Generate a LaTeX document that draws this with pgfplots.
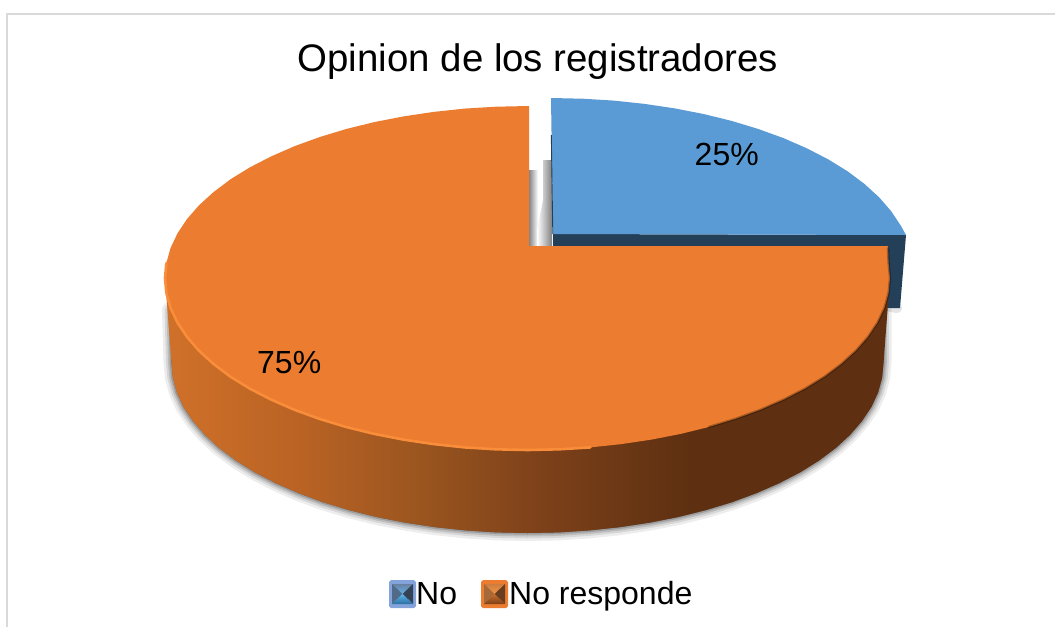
\documentclass[border=0pt]{standalone}
\usepackage{pgfplots}
\pgfplotsset{compat=1.18}
\usepackage{pgfplotstable}
\usepackage{fontspec}
\setmainfont{Liberation Sans}
\definecolor{orangetop}{HTML}{EB7C30}
\definecolor{orangerim}{HTML}{F98D3A}
\definecolor{bluetop}{HTML}{5B9BD5}
\definecolor{blueside}{HTML}{243F58}
\definecolor{frameg}{HTML}{D9D9D9}
\definecolor{s0}{HTML}{D07129}
\definecolor{s1}{HTML}{B86224}
\definecolor{s2}{HTML}{9A551F}
\definecolor{s3}{HTML}{7F421A}
\definecolor{s4}{HTML}{673514}
\definecolor{s5}{HTML}{5E3011}
\pgfdeclarehorizontalshading{sideshade}{100bp}{
 color(0bp)=(s0); color(25bp)=(s0); color(34.7bp)=(s1); color(42.7bp)=(s2);
 color(50.4bp)=(s3); color(58bp)=(s4); color(61.2bp)=(s5); color(75bp)=(s5); color(100bp)=(s5)}
\pgfplotstableread{
x y
883.5 310
883.5 363
882.1 377.8
878.1 392.5
871.4 407
862 421.1
850.1 434.8
835.8 448
819.1 460.5
800.2 472.3
779.2 483.2
756.3 493.2
731.7 502.3
705.5 510.2
677.9 517.1
649.3 522.7
619.6 527.2
589.3 530.4
558.5 532.4
527.5 533
496.5 532.4
465.7 530.4
435.4 527.2
405.7 522.7
377.1 517.1
349.5 510.2
323.3 502.3
298.7 493.2
275.8 483.2
254.8 472.3
235.9 460.5
219.2 448
204.9 434.8
193 421.1
183.6 407
176.9 392.5
172.9 377.8
171.5 363
170 310
}\lowerrim
\pgfplotstableread{
x y
890 278
883.5 363
882.1 377.8
878.1 392.5
871.4 407
862 421.1
850.1 434.8
835.8 448
819.1 460.5
800.2 472.3
779.2 483.2
756.3 493.2
731.7 502.3
705.5 510.2
677.9 517.1
649.3 522.7
619.6 527.2
589.3 530.4
558.5 532.4
527.5 533
496.5 532.4
465.7 530.4
435.4 527.2
405.7 522.7
377.1 517.1
349.5 510.2
323.3 502.3
298.7 493.2
275.8 483.2
254.8 472.3
235.9 460.5
219.2 448
204.9 434.8
193 421.1
183.6 407
176.9 392.5
172.9 377.8
171.5 363
165 278
}\sidewall
\pgfplotstableread{
x y
529 246
888 246
888.6 263
890 278
888.6 293
884.5 307.9
877.6 322.5
868.1 336.8
856 350.7
841.4 364
824.5 376.7
805.2 388.6
783.8 399.6
760.5 409.8
735.4 418.9
708.8 427
680.7 433.9
651.5 439.6
621.3 444.1
590.4 447.4
559.1 449.3
527.5 450
495.9 449.3
464.6 447.4
433.7 444.1
403.5 439.6
374.3 433.9
346.2 427
319.6 418.9
294.5 409.8
271.2 399.6
249.8 388.6
230.5 376.7
213.6 364
199 350.7
186.9 336.8
177.4 322.5
170.5 307.9
166.4 293
165 278
166.4 263
170.5 248.1
177.4 233.5
186.9 219.2
199 205.3
213.6 192
230.5 179.3
249.8 167.4
271.2 156.4
294.5 146.2
319.6 137.1
346.2 129
374.3 122.1
403.5 116.4
433.7 111.9
464.6 108.6
495.9 106.7
529 106
}\orangetopdata
\pgfplotstableread{
x y
551 98
582.6 98.7
613.8 100.6
644.7 103.9
674.8 108.4
704 114.1
732 121
758.6 129.1
783.7 138.2
807 148.4
828.3 159.4
847.6 171.3
864.5 184
879.1 197.3
891.2 211.2
900.7 225.5
906 235
553 234
}\bluetopdata
\begin{document}
\begin{tikzpicture}
\begin{axis}[
  hide axis, scale only axis, width=1055pt, height=627pt,
  xmin=0, xmax=1055, ymin=0, ymax=627, y dir=reverse, clip=true,
  every axis plot/.append style={line join=round, line cap=round}]
% page background, which also fixes the page's extent
\addplot[draw=none, fill=white] coordinates {(0,0) (1055,0) (1055,627) (0,627)};
% frame
\addplot[draw=frameg, line width=1.6pt, line cap=butt] coordinates {(7,627) (7,14) (1055,14)};
% soft shadow
\addplot[draw=black, fill=black, opacity=.07, line width=16pt] table {\lowerrim} -- cycle;
\addplot[draw=black, fill=black, opacity=.09, line width=11pt] table {\lowerrim} -- cycle;
\addplot[draw=black, fill=black, opacity=.12, line width=7pt] table {\lowerrim} -- cycle;
\addplot[draw=black, fill=black, opacity=.16, line width=3.5pt] table {\lowerrim} -- cycle;
% blue slice shadow and side
\addplot[draw=black, fill=black, opacity=.1, line width=10pt] coordinates {(890,300) (897,308) (885,306)} -- cycle;
\addplot[draw=none, fill=blueside] coordinates {(553,234) (906,235) (900,308) (860,308) (553,250)};
% shaded gap walls
\addplot[draw=none, left color=black!48, right color=white] coordinates {(529,170) (538,170) (538,246) (529,246)};
\addplot[draw=none, left color=white, right color=black!50] coordinates {(543,160) (552,160) (552,246) (537,246) (537,230) (543,200)};
% side wall of the orange slice
\addplot[draw=none, shading=sideshade] table {\sidewall};
% tops
\addplot[draw=none, fill=bluetop] table {\bluetopdata};
\addplot[draw=blueside, line width=.9pt, line cap=butt] coordinates {(551.3,135) (552.8,234)};
\addplot[draw=none, fill=orangetop] table {\orangetopdata};
% rim highlight and rim shade
\addplot[draw=orangerim, line width=2.6pt] coordinates {
(590.4,447.4) (559.1,449.3) (527.5,450) (495.9,449.3) (464.6,447.4) (433.7,444.1) (403.5,439.6) (374.3,433.9) (346.2,427) (319.6,418.9) (294.5,409.8) (271.2,399.6) (249.8,388.6) (230.5,376.7) (213.6,364) (199,350.7) (186.9,336.8) (177.4,322.5) (170.5,307.9) (166.4,293) (165,278) (166.4,263)};
\addplot[draw=black, opacity=.28, line width=2.4pt] coordinates {
(888,248) (888.6,263) (890,278) (888.6,293) (884.5,307.9) (877.6,322.5) (868.1,336.8) (856,350.7) (841.4,364) (824.5,376.7) (805.2,388.6) (783.8,399.6) (760.5,409.8) (735.4,418.9) (708.8,427)};
% legend swatches
\addplot[draw=none, fill={rgb,255:red,132;green,163;blue,219}] coordinates {(391,580) (414,580) (416,582) (416,606) (414,608) (391,608) (389,606) (389,582)};
\addplot[draw=none, fill=orangetop] coordinates {(483,580) (506,580) (508,582) (508,606) (506,608) (483,608) (481,606) (481,582)};
\addplot[draw=none, top color={rgb,255:red,105;green,128;blue,160}, bottom color={rgb,255:red,95;green,180;blue,235}] coordinates {(392,584) (413,584) (402.5,594)};
\addplot[draw=none, fill={rgb,255:red,80;green,106;blue,135}] coordinates {(392,584) (392,604) (402.5,594)};
\addplot[draw=none, fill={rgb,255:red,52;green,66;blue,86}] coordinates {(413,584) (413,604) (402.5,594)};
\addplot[draw=none, top color={rgb,255:red,95;green,180;blue,235}, bottom color={rgb,255:red,40;green,110;blue,160}] coordinates {(392,604) (413,604) (402.5,594)};
\addplot[draw=none, top color={rgb,255:red,205;green,125;blue,65}, bottom color={rgb,255:red,245;green,150;blue,65}] coordinates {(484,584) (505,584) (494.5,594)};
\addplot[draw=none, fill={rgb,255:red,165;green,105;blue,58}] coordinates {(484,584) (484,604) (494.5,594)};
\addplot[draw=none, fill={rgb,255:red,105;green,62;blue,32}] coordinates {(505,584) (505,604) (494.5,594)};
\addplot[draw=none, top color={rgb,255:red,200;green,110;blue,45}, bottom color={rgb,255:red,125;green,65;blue,24}] coordinates {(484,604) (505,604) (494.5,594)};
% text
\node[anchor=base west, inner sep=0pt] at (axis cs:297.5,71) {\fontsize{38.4}{42}\selectfont Opinion de los registradores};
\node[anchor=base west, inner sep=0pt] at (axis cs:694.5,165.5) {\fontsize{32}{36}\selectfont 25\%};
\node[anchor=base west, inner sep=0pt] at (axis cs:257,373.5) {\fontsize{32}{36}\selectfont 75\%};
\node[anchor=base west, inner sep=0pt] at (axis cs:416,604) {\fontsize{32}{36}\selectfont No};
\node[anchor=base west, inner sep=0pt] at (axis cs:509,604) {\fontsize{32}{36}\selectfont No responde};
\end{axis}
\end{tikzpicture}
\end{document}
